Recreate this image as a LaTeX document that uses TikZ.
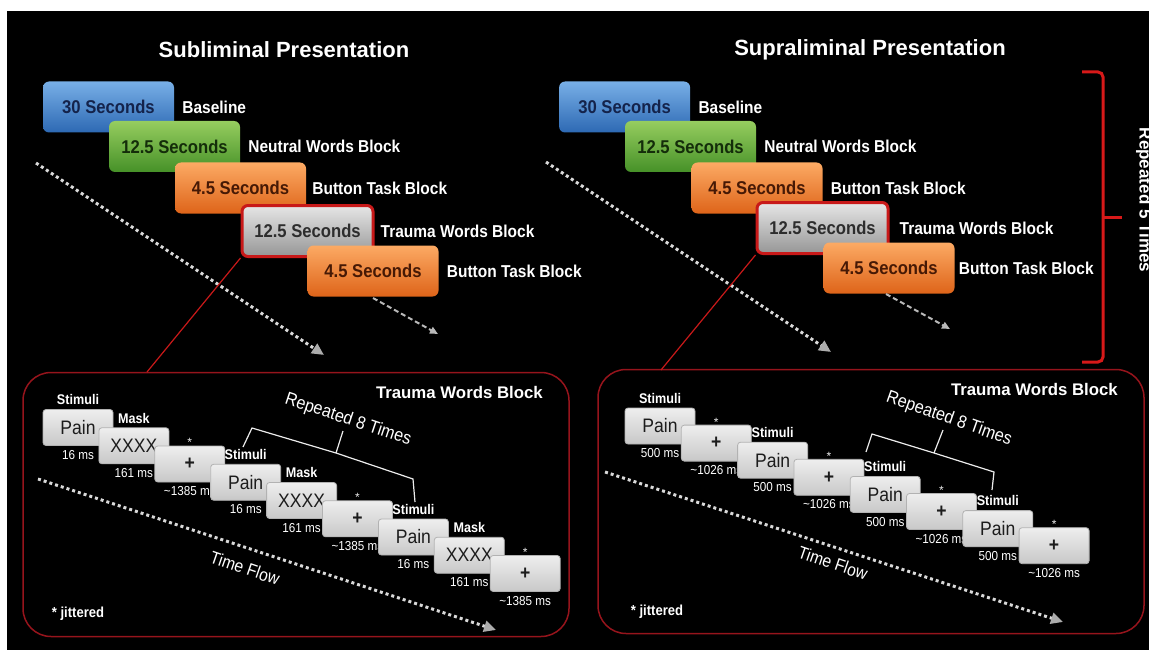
\documentclass[tikz,border=0pt]{standalone}
\usepackage{fontspec}
\setmainfont{Liberation Sans}
\newfontfamily\narrowfont{Liberation Sans}[FakeStretch=0.9]
\usetikzlibrary{positioning,arrows.meta}

\definecolor{blueT}{RGB}{120,175,230}
\definecolor{blueB}{RGB}{45,105,180}
\definecolor{blueX}{RGB}{20,35,75}
\definecolor{greenT}{RGB}{150,205,95}
\definecolor{greenB}{RGB}{70,145,40}
\definecolor{greenX}{RGB}{20,45,10}
\definecolor{orangeT}{RGB}{252,170,100}
\definecolor{orangeB}{RGB}{222,100,25}
\definecolor{orangeX}{RGB}{70,25,5}
\definecolor{grayT}{RGB}{230,230,230}
\definecolor{grayB}{RGB}{150,150,150}
\definecolor{grayX}{RGB}{45,45,45}
\definecolor{sboxT}{RGB}{238,238,238}
\definecolor{sboxB}{RGB}{200,200,200}
\definecolor{sboxX}{RGB}{28,28,28}
\definecolor{panelred}{RGB}{150,20,28}
\definecolor{zoomred}{RGB}{200,25,25}
\definecolor{braceRed}{RGB}{215,25,25}

\begin{document}
\begin{tikzpicture}[x=1pt, y=-1pt,
    every node/.style={text=white, inner sep=0pt},
    title/.style={font=\bfseries\fontsize{22}{26}\selectfont},
    bigbox/.style={rounded corners=6pt, minimum width=131pt, minimum height=51pt,
      font=\narrowfont\bfseries\fontsize{18.5}{20}\selectfont},
    bluebox/.style={bigbox, top color=blueT, bottom color=blueB, text=blueX},
    greenbox/.style={bigbox, top color=greenT, bottom color=greenB, text=greenX},
    orangebox/.style={bigbox, top color=orangeT, bottom color=orangeB, text=orangeX},
    graybox/.style={bigbox, top color=grayT, bottom color=grayB, text=grayX,
      draw=zoomred, line width=3pt},
    blocklbl/.style={font=\narrowfont\bfseries\fontsize{17.2}{20}\selectfont},
    panel/.style={draw=panelred, line width=1.5pt, rounded corners=28pt,
      minimum width=546pt, minimum height=264pt},
    panelhead/.style={font=\bfseries\fontsize{16.8}{20}\selectfont},
    sbox/.style={draw=gray!60, line width=0.8pt, rounded corners=3pt,
      top color=sboxT, bottom color=sboxB, text=sboxX,
      minimum width=70pt, minimum height=36pt, font=\narrowfont\fontsize{19.5}{21}\selectfont},
    toplbl/.style={font=\narrowfont\bfseries\fontsize{14}{16}\selectfont},
    starlbl/.style={text=gray!15, font=\fontsize{12}{14}\selectfont},
    mslbl/.style={font=\narrowfont\fontsize{13}{15}\selectfont},
    replbl/.style={font=\narrowfont\fontsize{18}{20}\selectfont},
    flowlbl/.style={font=\narrowfont\fontsize{17.5}{20}\selectfont},
    noteslbl/.style={font=\narrowfont\bfseries\fontsize{14.5}{16}\selectfont},
    flowdots/.style={draw=gray!30, line width=3pt, dash pattern=on 3pt off 3pt,
      -{Triangle[length=12pt,width=11pt,color=gray!65]}},
    flowdash/.style={draw=gray!55, line width=2pt, dash pattern=on 5pt off 3pt,
      -{Triangle[length=8pt,width=7pt]}},
    zoomline/.style={draw=zoomred, line width=1.2pt},
    brace/.style={draw=gray!15, line width=1.2pt}]

    % 背景
    \useasboundingbox (0,0) rectangle (1149,650);
    \fill[white] (0,0) rectangle (1149,650);
    \fill[black] (7,11) rectangle (1149,650);

    % タイトル
    \node[title] (tSub) at (284,49.5) {Subliminal Presentation};
    \node[title] (tSup) at (870,50) {Supraliminal Presentation};

    % 時間の流れ (上段)
    \coordinate (dL1) at (36,163);   \coordinate (dL2) at (324,355);
    \coordinate (dR1) at (546,162);  \coordinate (dR2) at (831,352);
    \draw[flowdots] (dL1) -- (dL2);
    \draw[flowdots] (dR1) -- (dR2);

    % ブロック (左)
    \node[bluebox] (Lb1) at (108.5,107) {30 Seconds};
    \node[blocklbl, right=8pt of Lb1] (Lb1t) {Baseline};
    \node[greenbox] (Lb2) at (174.5,146.5) {12.5 Seconds};
    \node[blocklbl, right=8pt of Lb2] (Lb2t) {Neutral Words Block};
    \node[orangebox] (Lb3) at (240.5,188) {4.5 Seconds};
    \node[blocklbl, right=6pt of Lb3] (Lb3t) {Button Task Block};
    \node[graybox] (Lb4) at (307.5,231) {12.5 Seconds};
    \node[blocklbl, right=6pt of Lb4] (Lb4t) {Trauma Words Block};
    \node[orangebox] (Lb5) at (373,271) {4.5 Seconds};
    \node[blocklbl, right=8pt of Lb5] (Lb5t) {Button Task Block};

    % ブロック (右)
    \node[bluebox] (Rb1) at (624.6,107) {30 Seconds};
    \node[blocklbl, right=8pt of Rb1] (Rb1t) {Baseline};
    \node[greenbox] (Rb2) at (690.5,146.5) {12.5 Seconds};
    \node[blocklbl, right=8pt of Rb2] (Rb2t) {Neutral Words Block};
    \node[orangebox] (Rb3) at (757,188) {4.5 Seconds};
    \node[blocklbl, right=8pt of Rb3] (Rb3t) {Button Task Block};
    \node[graybox] (Rb4) at (822.5,228) {12.5 Seconds};
    \node[blocklbl, right=10pt of Rb4] (Rb4t) {Trauma Words Block};
    \node[orangebox] (Rb5) at (889,268) {4.5 Seconds};
    \node[blocklbl, right=4pt of Rb5] (Rb5t) {Button Task Block};

    % 短い破線の矢印
    \coordinate (eL1) at (373,298);  \coordinate (eL2) at (438,334);
    \coordinate (eR1) at (886,294);  \coordinate (eR2) at (950,329);
    \draw[flowdash] (eL1) -- (eL2);
    \draw[flowdash] (eR1) -- (eR2);

    % 繰り返し (5回)
    \draw[braceRed, line width=3pt, rounded corners=5pt]
      (1082,72) -| (1103,217) |- (1082,362);
    \draw[braceRed, line width=3pt] (1103,217) -- (1122,217);
    \node[font=\bfseries\fontsize{17}{20}\selectfont, rotate=-90] (rep5) at (1144,200) {Repeated 5 Times};

    % 拡大パネル
    \node[panel] (panL) at (296,504.5) {};
    \node[panel] (panR) at (871,501.5) {};
    \coordinate (zL) at (147,372);
    \coordinate (zR) at (661,370);
    \draw[zoomline] (Lb4.south west) -- (zL);
    \draw[zoomline] (Rb4.south west) -- (zR);
    \node[panelhead, anchor=east] (hL) at (543,392) {Trauma Words Block};
    \node[panelhead, anchor=east] (hR) at (1118,389) {Trauma Words Block};

    % 時間の流れ (下段)
    \coordinate (fL1) at (38,479);   \coordinate (fL2) at (496,630);
    \coordinate (fR1) at (605,472);  \coordinate (fR2) at (1063,622);
    \draw[flowdots] (fL1) -- (fL2);
    \draw[flowdots] (fR1) -- (fR2);
    \node[flowlbl, rotate=-19] (tfL) at (245,568) {Time Flow};
    \node[flowlbl, rotate=-19] (tfR) at (833,563) {Time Flow};
    \node[noteslbl] (jL) at (78,614) {* jittered};
    \node[noteslbl] (jR) at (657,612) {* jittered};

    % 刺激系列 (左: 16 ms / 161 ms / ~1385 ms)
    \node[sbox] (Ls1) at (78,427.5) {Pain};
    \node[toplbl, above=4pt of Ls1] (Ls1a) {Stimuli};
    \node[mslbl, below=4pt of Ls1] (Ls1b) {16 ms};
    \node[sbox] (Ls2) at (133.9,445.75) {XXXX};
    \node[toplbl, above=4pt of Ls2] (Ls2a) {Mask};
    \node[mslbl, below=4pt of Ls2] (Ls2b) {161 ms};
    \node[sbox] (Ls3) at (189.8,464) {\bfseries +};
    \node[starlbl, above=-1.5pt of Ls3] (Ls3a) {*};
    \node[mslbl, below=4pt of Ls3] (Ls3b) {\textasciitilde 1385 ms};
    \node[sbox] (Ls4) at (245.7,482.25) {Pain};
    \node[toplbl, above=4pt of Ls4] (Ls4a) {Stimuli};
    \node[mslbl, below=4pt of Ls4] (Ls4b) {16 ms};
    \node[sbox] (Ls5) at (301.6,500.5) {XXXX};
    \node[toplbl, above=4pt of Ls5] (Ls5a) {Mask};
    \node[mslbl, below=4pt of Ls5] (Ls5b) {161 ms};
    \node[sbox] (Ls6) at (357.5,518.75) {\bfseries +};
    \node[starlbl, above=-1.5pt of Ls6] (Ls6a) {*};
    \node[mslbl, below=4pt of Ls6] (Ls6b) {\textasciitilde 1385 ms};
    \node[sbox] (Ls7) at (413.4,537) {Pain};
    \node[toplbl, above=4pt of Ls7] (Ls7a) {Stimuli};
    \node[mslbl, below=4pt of Ls7] (Ls7b) {16 ms};
    \node[sbox] (Ls8) at (469.3,555.25) {XXXX};
    \node[toplbl, above=4pt of Ls8] (Ls8a) {Mask};
    \node[mslbl, below=4pt of Ls8] (Ls8b) {161 ms};
    \node[sbox] (Ls9) at (525.2,573.5) {\bfseries +};
    \node[starlbl, above=-1.5pt of Ls9] (Ls9a) {*};
    \node[mslbl, below=4pt of Ls9] (Ls9b) {\textasciitilde 1385 ms};

    % 刺激系列 (右: 500 ms / ~1026 ms)
    \node[sbox] (Rs1) at (660,426) {Pain};
    \node[toplbl, above=4pt of Rs1] (Rs1a) {Stimuli};
    \node[mslbl, below=4pt of Rs1] (Rs1b) {500 ms};
    \node[sbox] (Rs2) at (716.3,443.1) {\bfseries +};
    \node[starlbl, above=-1.5pt of Rs2] (Rs2a) {*};
    \node[mslbl, below=4pt of Rs2] (Rs2b) {\textasciitilde 1026 ms};
    \node[sbox] (Rs3) at (772.6,460.2) {Pain};
    \node[toplbl, above=4pt of Rs3] (Rs3a) {Stimuli};
    \node[mslbl, below=4pt of Rs3] (Rs3b) {500 ms};
    \node[sbox] (Rs4) at (828.9,477.3) {\bfseries +};
    \node[starlbl, above=-1.5pt of Rs4] (Rs4a) {*};
    \node[mslbl, below=4pt of Rs4] (Rs4b) {\textasciitilde 1026 ms};
    \node[sbox] (Rs5) at (885.2,494.4) {Pain};
    \node[toplbl, above=4pt of Rs5] (Rs5a) {Stimuli};
    \node[mslbl, below=4pt of Rs5] (Rs5b) {500 ms};
    \node[sbox] (Rs6) at (941.5,511.5) {\bfseries +};
    \node[starlbl, above=-1.5pt of Rs6] (Rs6a) {*};
    \node[mslbl, below=4pt of Rs6] (Rs6b) {\textasciitilde 1026 ms};
    \node[sbox] (Rs7) at (997.8,528.6) {Pain};
    \node[toplbl, above=4pt of Rs7] (Rs7a) {Stimuli};
    \node[mslbl, below=4pt of Rs7] (Rs7b) {500 ms};
    \node[sbox] (Rs8) at (1054.1,545.7) {\bfseries +};
    \node[starlbl, above=-1.5pt of Rs8] (Rs8a) {*};
    \node[mslbl, below=4pt of Rs8] (Rs8b) {\textasciitilde 1026 ms};

    % 繰り返し (8回)
    \draw[brace] (243,447) -- (252,428) -- (336,453) -- (413,479) -- (415,502);
    \draw[brace] (336,453) -- (343,431);
    \node[replbl, rotate=-18.5] (rep8L) at (348,420) {Repeated 8 Times};
    \draw[brace] (866,452) -- (872,434) -- (934,453) -- (994,472) -- (992,490);
    \draw[brace] (934,453) -- (943,430);
    \node[replbl, rotate=-19.5] (rep8R) at (949,419) {Repeated 8 Times};

  \end{tikzpicture}
\end{document}
